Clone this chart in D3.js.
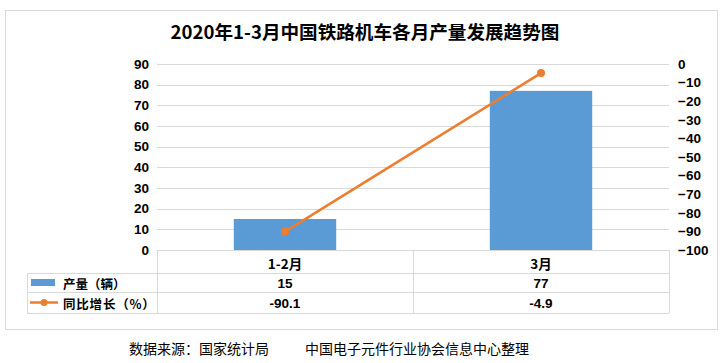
<!DOCTYPE html>
<html><head><meta charset="utf-8">
<script src="https://cdn.jsdelivr.net/npm/d3@7"></script>
<style>
body{margin:0;background:#fff;}
text{font-family:"Liberation Sans","Noto Sans CJK SC",sans-serif;}
.cjk{font-family:"Noto Sans CJK SC","Liberation Sans",sans-serif;}
</style></head>
<body>
<svg id="chart" width="726" height="363"></svg>
<script>
const title = "2020年1-3月中国铁路机车各月产量发展趋势图";
const categories = ["1-2月", "3月"];
const production = [15, 77];
const growth = [-90.1, -4.9];
const productionLabels = ["15", "77"];
const growthLabels = ["-90.1", "-4.9"];
const leftTicks = [0,10,20,30,40,50,60,70,80,90];
const rightTicks = [0,-10,-20,-30,-40,-50,-60,-70,-80,-90,-100];
const seriesNames = ["产量（辆）", "同比增长（%）"];
const footerLeft = "数据来源：国家统计局";
const footerRight = "中国电子元件行业协会信息中心整理";

const svg = d3.select("#chart");
const grid = "#d9d9d9";
const blue = "#5b9bd5", orange = "#ed7d31";
const L = 157, R = 669, T = 64, B = 250;
const tabL = 27, rowY = [250, 273, 292, 313];

// outer border
svg.append("rect").attr("x",5.5).attr("y",10.5).attr("width",712).attr("height",319)
  .attr("fill","#fff").attr("stroke",grid);

svg.append("text").attr("class","cjk").attr("x",365).attr("y",39).attr("text-anchor","middle")
  .attr("font-size",18.6).attr("font-weight","bold").attr("fill","#000").text(title);

const x = d3.scaleBand().domain(categories).range([L,R]).paddingInner(0.6).paddingOuter(0.3);
const yL = d3.scaleLinear().domain([0,90]).range([B,T]);
const yR = d3.scaleLinear().domain([-100,0]).range([B,T]);

// gridlines
svg.append("g").selectAll("line").data(leftTicks.filter(d=>d>0)).join("line")
  .attr("x1",L).attr("x2",R).attr("y1",d=>Math.round(yL(d))+0.5).attr("y2",d=>Math.round(yL(d))+0.5)
  .attr("stroke",grid).attr("stroke-width",1);

// left axis
const axL = svg.append("g").attr("transform",`translate(${L-8},0)`)
  .call(d3.axisLeft(yL).tickValues(leftTicks).tickSize(0).tickPadding(0));
axL.select(".domain").remove();
axL.selectAll("text").attr("font-size",13.5).attr("font-weight","bold").attr("fill","#000")
  .attr("font-family","Liberation Sans, sans-serif");

// right axis
const axR = svg.append("g").attr("transform",`translate(${R+9},0)`)
  .call(d3.axisRight(yR).tickValues(rightTicks).tickSize(0).tickPadding(0));
axR.select(".domain").remove();
axR.selectAll("text").attr("font-size",13.5).attr("font-weight","bold").attr("fill","#000")
  .attr("font-family","Liberation Sans, sans-serif");

// bars
svg.append("g").selectAll("rect").data(categories).join("rect")
  .attr("x",(d)=>x(d)).attr("width",x.bandwidth())
  .attr("y",(d,i)=>yL(production[i])).attr("height",(d,i)=>B-yL(production[i]))
  .attr("fill",blue);

// line
const cx = d => x(d) + x.bandwidth()/2;
svg.append("path").datum(categories)
  .attr("d", d3.line().x(d=>cx(d)).y((d,i)=>yR(growth[i])))
  .attr("fill","none").attr("stroke",orange).attr("stroke-width",2.5).attr("stroke-linecap","round");
svg.append("g").selectAll("circle").data(categories).join("circle")
  .attr("cx",d=>cx(d)).attr("cy",(d,i)=>yR(growth[i])).attr("r",4).attr("fill",orange);

// data table
const t = svg.append("g").attr("stroke",grid).attr("stroke-width",1);
t.append("line").attr("x1",L).attr("x2",R).attr("y1",rowY[0]+0.5).attr("y2",rowY[0]+0.5);
rowY.slice(1).forEach(y=>t.append("line").attr("x1",tabL).attr("x2",R).attr("y1",y+0.5).attr("y2",y+0.5));
t.append("line").attr("x1",tabL+0.5).attr("x2",tabL+0.5).attr("y1",rowY[1]).attr("y2",rowY[3]);
const colEdges = [L, L + (R-L)/2, R];
colEdges.forEach(cxv=>t.append("line").attr("x1",cxv+0.5).attr("x2",cxv+0.5).attr("y1",rowY[0]).attr("y2",rowY[3]));

const cellText = (xv, y, s, cls, anchor) => svg.append("text").attr("class",cls||null)
  .attr("x",xv).attr("y",y).attr("text-anchor",anchor||"middle").attr("dominant-baseline","central")
  .attr("font-size",13.5).attr("font-weight","bold").attr("fill","#000").text(s);

categories.forEach((c,i)=>{
  cellText(cx(c), (rowY[0]+rowY[1])/2+1, c, "cjk");
  cellText(cx(c), (rowY[1]+rowY[2])/2+1, productionLabels[i]);
  cellText(cx(c), (rowY[2]+rowY[3])/2+1, growthLabels[i]);
});
// legend keys
const r1 = (rowY[1]+rowY[2])/2, r2 = (rowY[2]+rowY[3])/2;
svg.append("rect").attr("x",31).attr("y",r1-3.5).attr("width",24).attr("height",7).attr("fill",blue);
svg.append("line").attr("x1",30).attr("x2",58).attr("y1",r2).attr("y2",r2).attr("stroke",orange).attr("stroke-width",2.5);
svg.append("circle").attr("cx",44).attr("cy",r2).attr("r",3.5).attr("fill",orange);
cellText(63, r1+1, seriesNames[0], "cjk", "start").attr("font-size",12.5);
cellText(63, r2+1, seriesNames[1], "cjk", "start").attr("font-size",12.5).attr("letter-spacing",0.8);

// footer
svg.append("text").attr("class","cjk").attr("x",129).attr("y",348).attr("dominant-baseline","central")
  .attr("font-size",14).attr("fill","#000").text(footerLeft);
svg.append("text").attr("class","cjk").attr("x",305).attr("y",348).attr("dominant-baseline","central")
  .attr("font-size",14).attr("fill","#000").text(footerRight);
</script>
</body></html>
